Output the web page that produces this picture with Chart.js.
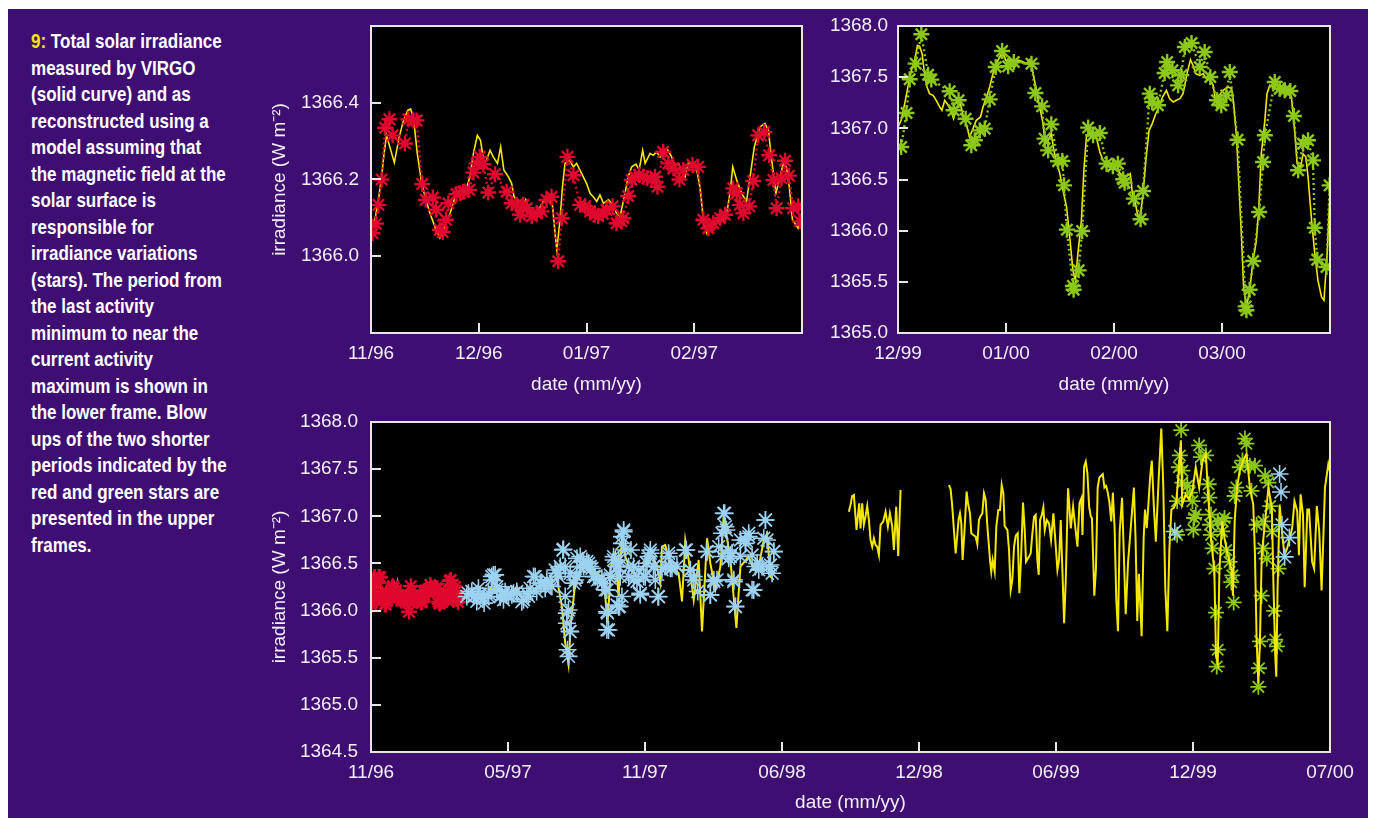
<!DOCTYPE html>
<html>
<head>
<meta charset="utf-8">
<script src="https://cdn.jsdelivr.net/npm/chart.js@4.4.0/dist/chart.umd.min.js"></script>
<style>
  body { margin: 0; width: 1374px; height: 818px; background: #fff; position: relative; overflow: hidden; }
  #panel { position: absolute; left: 8px; top: 9px; width: 1360px; height: 809px; background: #3f0e73; }
  #caption { position: absolute; left: 31px; top: 28px; color: #fff; white-space: nowrap;
             font: bold 20.5px/26.5px 'Liberation Sans', Arial, sans-serif;
             transform: scaleX(0.83); transform-origin: 0 0; }
  #caption span { color: #f5e600; }
  canvas { position: absolute; }
</style>
</head>
<body>
<div id="panel"></div>
<div id="caption"><span>9:</span> Total solar irradiance<br>measured by VIRGO<br>(solid curve) and as<br>reconstructed using a<br>model assuming that<br>the magnetic field at the<br>solar surface is<br>responsible for<br>irradiance variations<br>(stars). The period from<br>the last activity<br>minimum to near the<br>current activity<br>maximum is shown in<br>the lower frame. Blow<br>ups of the two shorter<br>periods indicated by the<br>red and green stars are<br>presented in the upper<br>frames.</div>
<canvas id="c1" width="575" height="406" style="left:240px;top:4px"></canvas>
<canvas id="c2" width="559" height="404" style="left:815px;top:6px"></canvas>
<canvas id="c3" width="1134" height="419" style="left:240px;top:399px"></canvas>
<script>
// x values are days from the start of each axis, y values are W m^-2

// upper left: 11/96 - 02/97
const tlTickDays = [0, 30.5, 61, 91.5];
const tlTickLabels = ['11/96', '12/96', '01/97', '02/97'];
const tlYTicks = [1366.0, 1366.2, 1366.4];
const tlLine = [
  [0,1366.060],[1.1,1366.095],[2.1,1366.147],[3.0,1366.207],[3.7,1366.268],[4.4,1366.315],[6.6,1366.244],[8.0,1366.311],
  [9.2,1366.354],[10.4,1366.380],[11.2,1366.384],[12.0,1366.363],[13.1,1366.268],[14.2,1366.199],[15.3,1366.155],[16.7,1366.112],
  [18.4,1366.069],[19.5,1366.048],[20.9,1366.078],[22.4,1366.112],[23.8,1366.155],[25.2,1366.164],[26.9,1366.173],[28.0,1366.207],
  [29.0,1366.268],[30.1,1366.315],[31.0,1366.302],[32.0,1366.242],[32.7,1366.251],[33.7,1366.276],[34.6,1366.259],[35.8,1366.242],
  [36.7,1366.285],[37.6,1366.225],[38.9,1366.207],[39.8,1366.190],[40.5,1366.155],[41.7,1366.143],[43.1,1366.130],[43.8,1366.147],
  [44.5,1366.121],[45.9,1366.112],[47.4,1366.121],[48.8,1366.143],[50.2,1366.155],[51.4,1366.130],[52.1,1366.060],[52.6,1366.017],
  [53.5,1366.095],[54.2,1366.181],[54.9,1366.242],[56.1,1366.251],[57.3,1366.233],[58.2,1366.242],[59.6,1366.216],[61.0,1366.190],
  [62.0,1366.164],[62.9,1366.155],[63.9,1366.143],[64.8,1366.160],[65.8,1366.138],[67.2,1366.147],[68.6,1366.134],[69.5,1366.112],
  [70.5,1366.104],[71.9,1366.164],[72.8,1366.207],[73.8,1366.233],[75.0,1366.240],[75.9,1366.225],[76.9,1366.276],[77.6,1366.242],
  [79.0,1366.268],[79.9,1366.263],[80.8,1366.272],[81.8,1366.259],[82.7,1366.276],[83.7,1366.281],[85.1,1366.259],[86.0,1366.233],
  [87.0,1366.242],[88.9,1366.207],[89.8,1366.242],[91.2,1366.242],[92.2,1366.225],[93.1,1366.181],[94.1,1366.095],[95.0,1366.060],
  [96.4,1366.078],[97.8,1366.086],[99.7,1366.095],[100.7,1366.112],[101.6,1366.164],[102.4,1366.233],[103.5,1366.199],[104.9,1366.164],
  [106.3,1366.143],[107.3,1366.207],[108.5,1366.285],[110.1,1366.337],[111.5,1366.346],[112.5,1366.328],[113.4,1366.251],[114.6,1366.164],
  [115.6,1366.199],[116.7,1366.242],[117.6,1366.233],[118.4,1366.181],[119.3,1366.095],[120.9,1366.073],[121.9,1366.095]
];
const tlStars = [
  [0.4,1366.060],[1.4,1366.085],[2.1,1366.134],[3.0,1366.200],[4.0,1366.335],[5.2,1366.357],[6.1,1366.315],[9.6,1366.294],
  [10.6,1366.357],[12.0,1366.354],[12.9,1366.354],[14.5,1366.188],[15.5,1366.147],[17.5,1366.153],[18.4,1366.121],[19.5,1366.069],
  [20.3,1366.063],[21.2,1366.095],[21.9,1366.138],[24.2,1366.162],[25.2,1366.164],[26.1,1366.168],[27.8,1366.173],[29.0,1366.218],
  [29.9,1366.242],[30.8,1366.259],[31.8,1366.240],[33.2,1366.166],[35.1,1366.214],[38.4,1366.168],[39.8,1366.138],[41.2,1366.134],
  [42.2,1366.108],[43.1,1366.134],[44.1,1366.125],[45.5,1366.104],[46.9,1366.112],[48.3,1366.117],[49.7,1366.147],[51.1,1366.155],
  [53.0,1365.987],[54.0,1366.099],[55.6,1366.259],[57.3,1366.211],[59.2,1366.134],[60.6,1366.130],[62.0,1366.117],[63.4,1366.108],
  [64.3,1366.104],[65.6,1366.110],[66.7,1366.121],[68.4,1366.130],[69.5,1366.086],[70.9,1366.091],[71.4,1366.099],[72.8,1366.157],
  [73.8,1366.199],[74.7,1366.207],[75.9,1366.212],[77.1,1366.207],[78.2,1366.203],[79.4,1366.200],[80.4,1366.207],[81.1,1366.181],
  [82.7,1366.272],[84.2,1366.242],[85.6,1366.229],[87.3,1366.200],[88.4,1366.225],[91.0,1366.238],[92.6,1366.233],[94.1,1366.095],
  [95.5,1366.073],[96.9,1366.086],[98.8,1366.099],[100.2,1366.108],[102.5,1366.177],[103.5,1366.164],[104.4,1366.134],[105.4,1366.112],
  [107.1,1366.130],[108.2,1366.196],[109.6,1366.315],[111.3,1366.324],[112.7,1366.263],[113.9,1366.199],[114.8,1366.125],[116.2,1366.203],
  [117.2,1366.249],[118.3,1366.210],[119.5,1366.125],[120.9,1366.130],[121.4,1366.091]
];

// upper right: 12/99 - 03/00
const trTickDays = [0, 30.5, 61, 91.5];
const trTickLabels = ['12/99', '01/00', '02/00', '03/00'];
const trYTicks = [1365.0, 1365.5, 1366.0, 1366.5, 1367.0, 1367.5, 1368.0];
const trLine = [
  [0,1367.013],[0.9,1367.078],[1.9,1367.241],[2.8,1367.404],[3.8,1367.567],[4.7,1367.664],[5.5,1367.811],[6.1,1367.801],
  [6.8,1367.730],[7.5,1367.534],[8.2,1367.404],[8.9,1367.339],[9.9,1367.322],[10.8,1367.274],[11.8,1367.208],[12.4,1367.176],
  [13.2,1367.274],[13.9,1367.241],[14.9,1367.176],[15.7,1367.094],[16.7,1367.208],[17.6,1367.241],[18.5,1367.111],[19.5,1367.013],
  [20.2,1366.915],[21.0,1366.980],[22.1,1367.078],[23.3,1367.111],[24.0,1367.208],[25.0,1367.306],[25.9,1367.404],[26.8,1367.534],
  [27.8,1367.632],[28.7,1367.697],[29.5,1367.746],[30.4,1367.664],[31.5,1367.664],[32.7,1367.671],[33.9,1367.664],[34.8,1367.658],
  [36.3,1367.632],[37.2,1367.671],[37.9,1367.583],[38.9,1367.404],[39.8,1367.241],[40.8,1367.078],[41.7,1366.850],[42.4,1366.883],
  [43.3,1366.948],[44.0,1366.785],[44.7,1366.687],[45.7,1366.557],[46.6,1366.394],[47.6,1366.231],[48.5,1365.938],[49.4,1365.612],
  [50.1,1365.515],[50.8,1365.775],[51.8,1366.101],[52.5,1366.590],[53.2,1366.915],[54.1,1366.948],[55.1,1366.932],[56.0,1366.915],
  [57.0,1366.769],[57.9,1366.687],[58.9,1366.655],[59.8,1366.622],[60.7,1366.606],[62.1,1366.590],[63.1,1366.541],[64.0,1366.524],
  [65.0,1366.541],[65.6,1366.557],[66.2,1366.362],[66.9,1366.296],[67.5,1366.182],[68.3,1366.101],[69.2,1366.362],[70.0,1366.687],
  [70.9,1366.980],[71.8,1367.046],[72.8,1367.143],[73.7,1367.208],[74.7,1367.306],[75.8,1367.371],[76.7,1367.290],[77.7,1367.257],
  [78.6,1367.274],[79.6,1367.290],[80.5,1367.339],[81.5,1367.518],[82.6,1367.671],[83.3,1367.616],[84.1,1367.534],[85.2,1367.518],
  [86.2,1367.534],[87.1,1367.485],[88.2,1367.469],[89.0,1367.420],[89.7,1367.274],[90.7,1367.322],[91.8,1367.371],[93.2,1367.404],
  [94.2,1367.388],[94.8,1367.241],[95.6,1366.915],[96.3,1366.427],[97.0,1365.938],[97.6,1365.450],[98.4,1365.254],[99.3,1365.417],
  [100.3,1365.710],[101.2,1365.906],[101.9,1366.231],[102.6,1366.752],[103.6,1367.078],[104.2,1367.339],[105.0,1367.420],[105.9,1367.404],
  [107.3,1367.371],[108.8,1367.388],[110.2,1367.371],[111.1,1367.306],[112.1,1366.948],[112.7,1366.655],[113.7,1366.622],[114.4,1366.752],
  [115.2,1366.720],[115.8,1366.524],[116.8,1366.101],[117.7,1365.775],[118.6,1365.515],[119.6,1365.352],[120.3,1365.319],[121.2,1365.775],
  [121.9,1366.296]
];
const trStars = [
  [0.9,1366.818],[2.4,1367.150],[3.3,1367.479],[5.0,1367.632],[6.6,1367.919],[8.5,1367.524],[9.4,1367.476],[14.6,1367.362],
  [15.7,1367.176],[17.1,1367.274],[19.1,1367.094],[20.7,1366.834],[21.7,1366.883],[23.1,1366.980],[24.5,1366.997],[25.9,1367.283],
  [27.6,1367.599],[29.4,1367.756],[31.1,1367.606],[32.7,1367.648],[37.7,1367.632],[38.8,1367.345],[40.7,1367.215],[41.4,1366.899],
  [42.4,1366.785],[43.3,1367.039],[45.2,1366.678],[46.4,1366.681],[46.9,1366.443],[47.7,1366.010],[49.4,1365.460],[49.6,1365.423],
  [51.0,1365.612],[52.0,1365.997],[53.7,1367.007],[55.1,1366.932],[57.0,1366.954],[58.9,1366.655],[60.7,1366.629],[62.1,1366.655],
  [63.6,1366.502],[64.0,1366.469],[66.6,1366.313],[68.5,1366.111],[69.2,1366.388],[71.1,1367.339],[71.8,1367.257],[73.4,1367.225],
  [75.3,1367.541],[76.0,1367.648],[77.5,1367.567],[79.1,1367.420],[80.0,1367.518],[81.0,1367.795],[82.9,1367.834],[85.2,1367.599],
  [86.6,1367.746],[88.2,1367.502],[90.1,1367.274],[91.3,1367.225],[92.7,1367.322],[93.7,1367.550],[95.9,1366.889],[98.2,1365.260],
  [98.4,1365.222],[99.3,1365.423],[100.3,1365.704],[102.0,1366.182],[103.1,1366.671],[103.6,1366.932],[106.4,1367.453],[107.8,1367.388],
  [109.2,1367.371],[110.8,1367.365],[111.8,1367.121],[113.0,1366.590],[114.4,1366.850],[115.8,1366.883],[117.2,1366.687],[117.7,1366.029],
  [118.4,1365.717],[121.0,1365.645],[121.9,1366.443]
];

// lower frame: 11/96 - 07/00
const bTickDays = [0, 191, 382, 573, 764, 955, 1146, 1337];
const bTickLabels = ['11/96', '05/97', '11/97', '06/98', '12/98', '06/99', '12/99', '07/00'];
const bYTicks = [1364.5, 1365.0, 1365.5, 1366.0, 1366.5, 1367.0, 1367.5, 1368.0];
const bLineA = [
  [131.2,1366.150],[142.8,1366.167],[156.8,1366.114],[170.7,1366.291],[184.7,1366.150],[198.7,1366.202],[203.3,1366.255],[212.6,1366.097],
  [226.6,1366.220],[245.2,1366.291],[259.1,1366.343],[266.1,1366.044],[270.8,1365.655],[275.4,1365.427],[278.7,1365.867],[284.7,1366.291],
  [296.3,1366.502],[310.3,1366.396],[324.3,1366.361],[329.8,1365.867],[334.5,1366.467],[340.5,1366.608],[345.2,1366.150],[349.8,1366.784],
  [354.5,1366.573],[361.5,1366.432],[370.8,1366.361],[380.1,1366.467],[389.4,1366.643],[398.7,1366.467],[403.4,1366.291],[405.7,1366.678],
  [410.3,1366.696],[415.0,1366.537],[424.3,1366.432],[428.9,1366.396],[433.6,1366.097],[438.2,1366.749],[442.9,1366.537],[449.9,1366.114],
  [456.8,1366.537],[461.5,1365.779],[468.5,1366.767],[473.1,1366.502],[480.1,1366.220],[487.1,1366.467],[491.7,1366.996],[501.1,1366.537],
  [509.4,1365.815],[515.0,1366.467],[526.6,1366.573],[533.6,1366.432],[540.6,1366.467],[547.6,1366.749],[552.2,1366.819],[556.9,1366.361],
  [561.5,1366.326]
];
const bLineB = [
  [666.2,1367.049],[668.5,1367.120],[670.8,1367.215],[673.2,1367.226],[675.5,1366.996],[676.9,1366.855],[679.2,1367.031],[680.6,1367.138],
  [682.5,1366.872],[684.8,1367.138],[687.1,1366.908],[689.4,1366.996],[691.8,1367.109],[694.1,1366.961],[696.4,1366.749],[698.8,1366.678],
  [701.1,1366.766],[703.4,1366.696],[705.7,1366.678],[708.1,1366.590],[710.4,1366.908],[714.1,1366.943],[717.4,1367.049],[720.6,1366.890],
  [723.4,1367.031],[726.7,1366.890],[729.0,1366.643],[732.2,1367.102],[735.0,1366.579],[738.3,1367.279]
];
const bLineC = [
  [805.8,1367.332],[808.1,1367.286],[810.4,1367.102],[812.7,1366.855],[815.1,1366.607],[817.4,1366.802],[819.2,1366.968],[821.1,1367.031],
  [823.0,1366.925],[824.8,1366.537],[827.2,1366.819],[830.4,1367.261],[832.3,1367.138],[835.1,1367.031],[836.9,1366.819],[839.7,1366.802],
  [843.0,1366.784],[845.3,1366.706],[847.6,1366.961],[849.9,1367.003],[852.3,1367.031],[854.6,1367.244],[856.9,1367.180],[859.3,1366.897],
  [863.0,1366.537],[864.8,1366.413],[866.7,1366.537],[869.5,1366.413],[871.8,1366.890],[874.6,1367.067],[876.9,1367.067],[879.3,1367.332],
  [881.6,1367.244],[883.4,1366.897],[887.2,1366.855],[889.5,1366.643],[891.8,1366.218],[894.1,1366.324],[896.5,1366.678],[898.8,1366.791],
  [901.6,1366.819],[903.9,1366.183],[906.2,1366.537],[909.0,1367.145],[911.4,1366.855],[913.2,1366.519],[917.4,1366.572],[919.7,1366.607],
  [922.1,1366.819],[924.4,1366.996],[926.7,1367.014],[929.0,1366.537],[930.9,1366.378],[932.8,1366.961],[935.1,1367.014],[937.4,1367.095],
  [939.3,1366.855],[942.1,1366.961],[945.3,1366.925],[948.1,1366.749],[951.4,1367.031],[953.7,1366.784],[957.0,1366.431],[959.3,1366.537],
  [961.6,1366.961],[963.9,1366.431],[966.3,1365.865],[968.6,1366.324],[971.8,1367.297],[973.7,1367.102],[975.6,1366.872],[978.8,1367.102],
  [984.9,1366.678],[987.7,1367.138],[990.4,1367.191],[991.9,1366.802],[994.2,1367.526],[996.5,1367.579],[998.8,1367.456],[1001.2,1367.102],
  [1003.5,1366.996]
];
const bLineD = [
  [1005.1,1366.982],[1008.4,1366.158],[1010.7,1366.445],[1013.1,1367.305],[1015.5,1367.412],[1017.8,1367.430],[1020.2,1367.448],[1022.5,1367.305],
  [1024.9,1367.323],[1027.2,1367.251],[1029.6,1367.143],[1032.0,1366.946],[1034.3,1367.251],[1036.7,1366.875],[1039.0,1366.122],[1041.4,1365.782],
  [1043.8,1366.839],[1047.1,1367.197],[1049.9,1366.516],[1052.2,1365.961],[1055.5,1366.516],[1060.3,1366.982],[1063.6,1367.305],[1065.9,1366.767],
  [1068.3,1365.889],[1070.6,1366.391],[1074.4,1365.728],[1077.2,1366.767],[1079.1,1367.072],[1081.5,1366.875],[1083.8,1367.125],[1086.2,1367.412],
  [1088.6,1367.591],[1091.4,1367.108],[1094.2,1366.731],[1098.0,1367.376],[1101.8,1367.932],[1104.6,1367.305],[1107.4,1366.230],[1110.2,1365.782],
  [1113.1,1366.660],[1115.9,1367.072],[1119.2,1367.090],[1122.5,1367.143],[1126.3,1367.484],[1129.1,1367.806],[1131.0,1367.125],[1135.7,1367.233],
  [1140.4,1367.179],[1145.1,1367.269],[1149.8,1367.520],[1154.6,1367.305],[1159.3,1367.591],[1164.0,1367.663],[1166.4,1367.305],[1171.1,1366.767],
  [1175.8,1366.409],[1178.1,1365.513],[1180.5,1365.442],[1182.8,1366.409],[1186.6,1366.946],[1189.9,1366.767],[1194.6,1366.588],[1199.4,1366.445],
  [1201.7,1366.158],[1204.1,1366.946],[1207.4,1367.305],[1211.1,1367.484],[1215.9,1367.591],[1220.6,1367.663],[1225.3,1367.305],[1230.0,1367.125],
  [1232.4,1366.588],[1234.7,1365.692],[1237.1,1365.227],[1239.4,1365.692],[1241.8,1366.588],[1246.5,1366.946],[1251.2,1367.305],[1255.9,1367.090],
  [1258.3,1366.230],[1260.7,1365.513],[1262.1,1365.298],[1263.9,1366.230],[1266.8,1367.125],[1270.1,1366.839],[1273.4,1366.588],[1277.2,1366.660],
  [1280.9,1366.767],[1284.2,1366.875],[1287.5,1367.161],[1291.3,1367.054],[1293.7,1366.588],[1296.0,1367.233],[1299.3,1367.018],[1301.7,1366.248],
  [1305.4,1367.072],[1307.8,1367.072],[1312.1,1366.516],[1314.9,1366.445],[1318.6,1367.108],[1322.0,1366.839],[1325.3,1366.212],[1330.0,1367.305],
  [1334.7,1367.555],[1339.4,1367.394]
];
const bBlueStars = [
  [133.5,1366.150],[140.5,1366.202],[147.5,1366.097],[152.1,1366.167],[157.7,1366.079],[163.8,1366.150],[168.4,1366.361],[173.1,1366.379],
  [175.4,1366.220],[180.0,1366.150],[184.7,1366.114],[189.3,1366.167],[196.3,1366.167],[203.3,1366.202],[212.6,1366.114],[219.6,1366.150],
  [226.6,1366.361],[231.0,1366.202],[238.2,1366.291],[245.2,1366.326],[252.2,1366.255],[259.1,1366.396],[263.8,1366.467],[267.5,1366.643],
  [270.8,1366.150],[273.1,1365.973],[276.8,1365.779],[274.0,1365.585],[275.4,1365.514],[282.4,1366.291],[287.0,1366.361],[291.7,1366.573],
  [296.3,1366.467],[301.0,1366.520],[305.7,1366.467],[310.3,1366.361],[315.9,1366.326],[321.9,1366.343],[326.6,1366.220],[329.8,1365.973],
  [328.9,1365.797],[333.6,1366.343],[338.2,1366.537],[342.9,1366.467],[346.6,1366.044],[349.8,1366.150],[352.2,1366.837],[354.5,1366.643],
  [359.2,1366.361],[362.4,1366.643],[366.1,1366.467],[370.8,1366.308],[375.4,1366.167],[380.1,1366.361],[384.7,1366.502],[389.4,1366.608],
  [394.0,1366.467],[400.1,1366.150],[405.7,1366.432],[410.5,1366.467],[414.9,1366.608],[419.6,1366.449],[426.6,1366.467],[439.6,1366.643],
  [445.2,1366.432],[449.9,1366.361],[455.5,1366.202],[468.5,1366.626],[473.1,1366.167],[477.8,1366.308],[482.4,1366.326],[489.4,1366.573],
  [493.1,1367.031],[495.5,1366.855],[497.3,1366.643],[501.1,1366.573],[505.7,1366.326],[508.0,1366.044],[515.0,1366.573],[522.0,1366.749],
  [526.6,1366.784],[531.3,1366.220],[535.9,1366.467],[540.6,1366.432],[547.6,1366.767],[549.9,1366.961],[554.5,1366.467],[559.2,1366.396],
  [561.5,1366.626],
  [135.8,1366.183],[142.8,1366.147],[149.8,1366.236],[156.8,1366.130],[163.8,1366.183],[168.4,1366.324],[170.7,1366.377],[175.4,1366.253],
  [180.0,1366.147],[187.0,1366.200],[191.7,1366.165],[198.7,1366.183],[210.3,1366.094],[217.3,1366.183],[221.9,1366.236],[228.9,1366.360],
  [235.9,1366.289],[242.8,1366.236],[249.8,1366.271],[256.8,1366.430],[261.5,1366.360],[268.4,1366.650],[270.8,1366.466],[277.7,1366.395],
  [284.7,1366.324],[287.1,1366.554],[291.7,1366.466],[296.3,1366.519],[303.3,1366.501],[308.0,1366.448],[312.6,1366.360],[322.0,1366.289],
  [328.9,1366.218],[333.6,1366.377],[338.2,1366.572],[345.2,1366.466],[349.9,1366.784],[275.4,1366.006],[273.1,1365.865],[277.7,1365.777],
  [328.9,1365.988],[331.2,1365.794],[342.9,1366.059],
  [352.2,1366.855],[349.9,1366.713],[345.2,1366.536],[347.5,1366.360],[345.2,1366.041],[359.1,1366.466],[366.1,1366.324],[373.1,1366.430],
  [375.4,1366.183],[382.4,1366.360],[387.1,1366.572],[389.4,1366.642],[394.0,1366.466],[396.4,1366.324],[401.0,1366.147],[415.0,1366.572],
  [417.3,1366.448],[438.2,1366.642],[445.2,1366.430],[449.9,1366.324],[468.5,1366.625],[473.1,1366.165],[477.8,1366.324],[484.7,1366.678],
  [489.4,1366.820],[491.7,1367.032],[494.1,1366.890],[498.7,1366.554],[503.4,1366.607],[505.7,1366.307],[508.0,1366.041],[515.0,1366.749],
  [522.0,1366.713],[526.6,1366.820],[531.3,1366.589],[533.6,1366.218],[538.3,1366.501],[545.3,1366.466],[549.9,1366.961],[552.2,1366.749],
  [556.9,1366.483],[561.5,1366.625],
  [1120.6,1366.839],[1266.7,1367.449],[1268.7,1367.258],[1270.0,1366.911],[1273.8,1366.570],[1280.4,1366.774]
];
const bGreenStars = [
  [1123.9,1367.161],[1123.9,1366.803],[1126.3,1367.520],[1127.7,1367.645],[1129.5,1367.914],[1131.1,1367.484],[1131.1,1367.358],[1138.0,1367.323],
  [1141.4,1367.251],[1145.2,1367.161],[1146.5,1366.857],[1147.5,1366.982],[1149.9,1367.018],[1154.5,1367.752],[1156.9,1367.627],[1164.0,1367.645],
  [1167.8,1367.340],[1168.7,1367.197],[1169.7,1366.910],[1171.1,1367.018],[1171.1,1366.803],[1173.5,1366.660],[1175.7,1366.445],[1178.1,1365.979],
  [1179.1,1365.406],[1180.5,1366.946],[1180.5,1365.585],[1186.6,1366.839],[1187.6,1366.946],[1190.0,1366.982],[1192.3,1366.642],[1196.9,1366.516],
  [1199.3,1366.301],[1200.8,1366.373],[1202.7,1366.086],[1204.0,1367.215],[1206.4,1367.305],[1211.2,1367.520],[1214.9,1367.591],[1218.3,1367.824],
  [1220.5,1367.770],[1225.3,1367.537],[1227.6,1367.269],[1232.4,1367.537],[1234.7,1366.910],[1237.1,1365.191],[1238.0,1365.388],[1239.5,1365.674],
  [1241.7,1366.158],[1244.1,1366.946],[1244.1,1366.660],[1246.5,1367.430],[1248.8,1366.552],[1251.2,1367.358],[1253.6,1367.108],[1256.0,1366.839],
  [1259.2,1365.997],[1260.7,1365.692],[1262.9,1365.621],[1265.3,1366.445]
];

const YELLOW = '#f5e800';
const RED = '#e0082e';
const GREEN = '#8dc816';
const BLUE = '#9cd2f2';
const TEXT = '#f3eff8';
const FONT = { family: "'Liberation Sans', Arial, sans-serif", size: 19, lineHeight: '20px' };

const pts = arr => arr.map(([x, y]) => ({ x, y }));

function line(data, width) {
  return { data: pts(data), showLine: true, borderColor: YELLOW, borderWidth: width, pointRadius: 0, tension: 0 };
}
function stars(data, color, r, w, dashed) {
  return {
    data: pts(data), pointStyle: 'star', pointRadius: r, borderWidth: w,
    borderColor: color, backgroundColor: color, pointBorderColor: color,
    showLine: dashed, borderDash: [2, 3], tension: 0
  };
}

// black plot area, white frame and inward tick marks
const frame = {
  id: 'frame',
  beforeDraw(chart) {
    const a = chart.chartArea, ctx = chart.ctx;
    ctx.save();
    ctx.fillStyle = '#000';
    ctx.fillRect(a.left, a.top, a.right - a.left, a.bottom - a.top);
    ctx.restore();
  },
  afterDraw(chart) {
    const a = chart.chartArea, ctx = chart.ctx;
    const xs = chart.scales.x, ys = chart.scales.y;
    ctx.save();
    ctx.strokeStyle = '#e6e6e6';
    ctx.lineWidth = 2;
    ctx.beginPath();
    xs.ticks.forEach(t => {
      const p = Math.round(xs.getPixelForValue(t.value));
      ctx.moveTo(p, a.bottom); ctx.lineTo(p, a.bottom - 10);
    });
    ys.ticks.forEach(t => {
      const p = Math.round(ys.getPixelForValue(t.value));
      ctx.moveTo(a.left, p); ctx.lineTo(a.left + 10, p);
    });
    ctx.stroke();
    ctx.strokeRect(a.left, a.top, a.right - a.left, a.bottom - a.top);
    ctx.restore();
  }
};

// the plot top sits at canvas top + half a label line (10px) + tick padding
function panel(id, o) {
  return new Chart(document.getElementById(id), {
    type: 'scatter',
    data: { datasets: o.datasets },
    options: {
      responsive: false,
      animation: false,
      events: [],
      layout: { padding: { left: 0, top: 0, right: o.padRight, bottom: 0 } },
      plugins: { legend: { display: false }, tooltip: { enabled: false } },
      scales: {
        x: {
          type: 'linear', min: 0, max: o.xMax,
          grid: { display: false, drawTicks: false },
          border: { display: false },
          afterBuildTicks: s => { s.ticks = o.xTicks.map(v => ({ value: v })); },
          afterFit: s => { s.height = o.xH; },
          ticks: { color: TEXT, font: FONT, padding: 11, maxRotation: 0, autoSkip: false,
                   callback: (v, i) => o.xLabels[i] },
          title: { display: true, text: 'date (mm/yy)', color: TEXT, font: FONT,
                   padding: { top: 0, bottom: o.xTitlePad } }
        },
        y: {
          type: 'linear', min: o.yMin, max: o.yMax,
          grid: { display: false, drawTicks: false },
          border: { display: false },
          afterBuildTicks: s => { s.ticks = o.yTicks.map(v => ({ value: v })); },
          afterFit: s => { s.width = o.yW; },
          ticks: { color: TEXT, font: FONT, padding: o.yPad, autoSkip: false,
                   callback: v => v.toFixed(1) },
          title: { display: !!o.yTitle, text: o.yTitle, color: TEXT, font: FONT,
                   padding: { top: 30, bottom: 0 } }
        }
      }
    },
    plugins: [frame]
  });
}

panel('c1', {
  datasets: [stars(tlStars, RED, 8, 2.4, true), line(tlLine, 1.6)],
  xMax: 122, xTicks: tlTickDays, xLabels: tlTickLabels, xH: 77, xTitlePad: 15,
  yMin: 1365.8, yMax: 1366.6, yTicks: tlYTicks, yW: 131, yPad: 12,
  yTitle: 'irradiance (W m\u207B\u00B2)', padRight: 13
});

panel('c2', {
  datasets: [stars(trStars, GREEN, 8, 2.4, true), line(trLine, 1.6)],
  xMax: 122, xTicks: trTickDays, xLabels: trTickLabels, xH: 77, xTitlePad: 15,
  yMin: 1365.0, yMax: 1368.0, yTicks: trYTicks, yW: 83, yPad: 10,
  yTitle: '', padRight: 44
});

panel('c3', {
  datasets: [
    stars(bBlueStars, BLUE, 9, 1.6, false),
    stars(tlStars, RED, 8, 2.4, false),
    line(tlLine.concat(bLineA), 2),
    line(bLineB, 2),
    line(bLineC.concat(bLineD), 2),
    stars(bGreenStars, GREEN, 8, 1.8, false)
  ],
  xMax: 1337, xTicks: bTickDays, xLabels: bTickLabels, xH: 66, xTitlePad: 5,
  yMin: 1364.5, yMax: 1368.0, yTicks: bYTicks, yW: 131, yPad: 13,
  yTitle: 'irradiance (W m\u207B\u00B2)', padRight: 44
});
</script>
</body>
</html>
